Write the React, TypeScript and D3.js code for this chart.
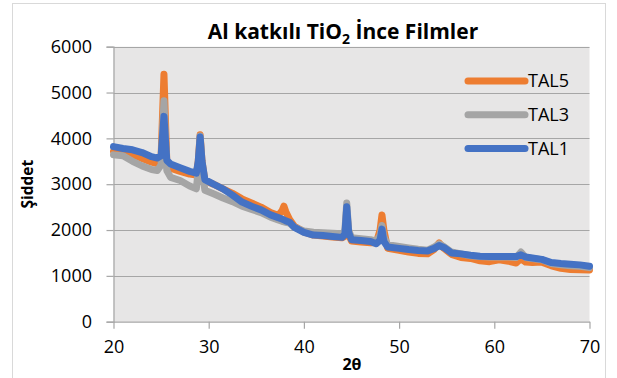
import { useEffect, useRef } from "react";
import * as d3 from "d3";

// 2θ positions shared by all three scans
const twoTheta = [
  20, 21, 22, 23, 24, 24.6, 25.0, 25.3, 25.6, 26, 27, 28, 28.7, 28.9, 29.1, 29.3, 29.6,
  30.5, 31.5, 32.5, 33.5, 34.5, 35.5, 36.5, 37.3, 37.7, 37.9, 38.1, 38.5, 39, 40, 41, 42,
  43, 44, 44.3, 44.5, 44.7, 45, 46, 47, 47.6, 48.0, 48.2, 48.4, 48.8, 50, 51, 52, 53, 53.7,
  54.2, 54.7, 55.5, 56.5, 57.5, 58.5, 59.5, 60.5, 61.5, 62.3, 62.8, 63.3, 64, 65, 66, 67,
  68, 69, 70,
];

const tal5 = [
  3720, 3690, 3650, 3560, 3480, 3450, 3600, 5400, 3500, 3350, 3280, 3220, 3200, 3500, 4080,
  3500, 3080, 3000, 2900, 2800, 2680, 2590, 2500, 2380, 2320, 2420, 2520, 2400, 2230, 2080,
  1960, 1890, 1870, 1850, 1830, 1860, 2420, 1900, 1760, 1740, 1720, 1720, 2000, 2330, 2000,
  1600, 1560, 1520, 1490, 1480, 1580, 1720, 1600, 1470, 1400, 1380, 1330, 1310, 1350, 1320,
  1280, 1380, 1300, 1290, 1300, 1220, 1165, 1140, 1135, 1130,
];

const tal3 = [
  3640, 3620, 3500, 3400, 3320, 3300, 3420, 4820, 3300, 3150, 3080, 2960, 2900, 3300, 4050,
  3300, 2870, 2790, 2700, 2620, 2520, 2450, 2380, 2280, 2220, 2190, 2180, 2170, 2150, 2060,
  1980, 1950, 1940, 1930, 1920, 1980, 2590, 2000, 1830, 1810, 1790, 1760, 1880, 2100, 1850,
  1680, 1640, 1610, 1580, 1560, 1630, 1700, 1640, 1520, 1480, 1440, 1420, 1410, 1410, 1410,
  1400, 1520, 1400, 1380, 1350, 1270, 1240, 1220, 1210, 1180,
];

const tal1 = [
  3820, 3780, 3750, 3690, 3600, 3570, 3620, 4480, 3520, 3440, 3360, 3280, 3240, 3500, 4030,
  3500, 3100, 3000, 2900, 2760, 2610, 2520, 2440, 2330, 2270, 2240, 2220, 2200, 2170, 2060,
  1950, 1890, 1880, 1860, 1840, 1900, 2510, 1950, 1790, 1770, 1750, 1700, 1780, 2020, 1750,
  1630, 1600, 1575, 1555, 1545, 1600, 1660, 1620, 1500, 1480, 1450, 1430, 1425, 1420, 1420,
  1420, 1460, 1410, 1390, 1360, 1290, 1270, 1255, 1240, 1210,
];

const seriesNames = ["TAL5", "TAL3", "TAL1"];
const seriesValues = [tal5, tal3, tal1];
const seriesColors = ["#ED7D31", "#A5A5A5", "#4472C4"];

const xTicks = [20, 30, 40, 50, 60, 70];
const yTicks = [0, 1000, 2000, 3000, 4000, 5000, 6000];

const W = 617;
const H = 378;
const FONT = "'Open Sans', 'Liberation Sans', sans-serif";

export default function App(): JSX.Element {
  const ref = useRef<SVGSVGElement | null>(null);

  useEffect(() => {
    if (!ref.current) return;
    const svg = d3.select(ref.current);
    svg.selectAll("*").remove();

    const plot = { left: 113.5, right: 589.5, top: 46.7, bottom: 321.7 };
    const x = d3.scaleLinear().domain([20, 70]).range([plot.left, plot.right]);
    const y = d3.scaleLinear().domain([0, 6000]).range([plot.bottom, plot.top]);

    // chart frame
    svg
      .append("rect")
      .attr("x", 12.5)
      .attr("y", 3.5)
      .attr("width", 593)
      .attr("height", 400)
      .attr("fill", "#fff")
      .attr("stroke", "#d9d9d9");

    // plot area
    svg
      .append("rect")
      .attr("x", plot.left)
      .attr("y", plot.top)
      .attr("width", plot.right - plot.left)
      .attr("height", plot.bottom - plot.top)
      .attr("fill", "#e7e6e6");

    // horizontal gridlines
    svg
      .append("g")
      .selectAll("line")
      .data(yTicks.filter((t) => t > 0))
      .join("line")
      .attr("x1", plot.left)
      .attr("x2", plot.right)
      .attr("y1", (d) => Math.round(y(d)) + 0.5)
      .attr("y2", (d) => Math.round(y(d)) + 0.5)
      .attr("stroke", "#a6a6a6")
      .attr("stroke-width", 1.2);

    // y axis
    const yAxis = svg
      .append("g")
      .attr("transform", `translate(${plot.left},0)`)
      .call(d3.axisLeft(y).tickValues(yTicks).tickSize(7).tickPadding(14.5).tickFormat(d3.format("d")));
    yAxis.select(".domain").attr("stroke", "#a6a6a6").attr("stroke-width", 1.2);
    yAxis.selectAll(".tick line").attr("stroke", "#a6a6a6").attr("stroke-width", 1.2);
    yAxis
      .selectAll(".tick text")
      .attr("font-family", FONT)
      .attr("font-size", 18)
      .attr("fill", "#000");

    // x axis
    const xAxis = svg
      .append("g")
      .attr("transform", `translate(0,${plot.bottom})`)
      .call(d3.axisBottom(x).tickValues(xTicks).tickSize(7).tickSizeOuter(0).tickPadding(12));
    xAxis.select(".domain").attr("stroke", "#a6a6a6").attr("stroke-width", 1.2);
    xAxis.selectAll(".tick line").attr("stroke", "#a6a6a6").attr("stroke-width", 1.2);
    xAxis
      .selectAll(".tick text")
      .attr("font-family", FONT)
      .attr("font-size", 18)
      .attr("fill", "#000");

    // series, TAL5 first so TAL1 ends up on top
    const line = d3
      .line<number>()
      .x((_d, i) => x(twoTheta[i]))
      .y((d) => y(d));

    svg
      .append("g")
      .selectAll("path")
      .data(seriesValues)
      .join("path")
      .attr("d", (d) => line(d))
      .attr("fill", "none")
      .attr("stroke", (_d, i) => seriesColors[i])
      .attr("stroke-width", 7)
      .attr("stroke-linejoin", "round")
      .attr("stroke-linecap", "round");

    // legend inside plot, top right
    const legend = svg
      .append("g")
      .selectAll("g")
      .data(seriesNames)
      .join("g")
      .attr("transform", (_d, i) => `translate(468,${81 + i * 33.7})`);
    legend
      .append("line")
      .attr("x1", 0)
      .attr("x2", 57)
      .attr("stroke", (_d, i) => seriesColors[i])
      .attr("stroke-width", 7)
      .attr("stroke-linecap", "round");
    legend
      .append("text")
      .attr("x", 60)
      .attr("dy", "0.35em")
      .attr("font-family", FONT)
      .attr("font-size", 18)
      .text((d) => d);

    // title with subscript
    const title = svg
      .append("text")
      .attr("x", 343)
      .attr("y", 39)
      .attr("text-anchor", "middle")
      .attr("font-family", FONT)
      .attr("font-weight", "bold")
      .attr("font-size", 21);
    title.append("tspan").text("Al katkılı TiO");
    title.append("tspan").attr("font-size", 14).attr("dy", 5).text("2");
    title.append("tspan").attr("dy", -5).text(" İnce Filmler");

    // axis titles
    svg
      .append("text")
      .attr("transform", `translate(33,${(plot.top + plot.bottom) / 2}) rotate(-90)`)
      .attr("text-anchor", "middle")
      .attr("font-family", FONT)
      .attr("font-weight", "bold")
      .attr("font-size", 15.5)
      .text("Şiddet");

    svg
      .append("text")
      .attr("x", 352)
      .attr("y", 370)
      .attr("text-anchor", "middle")
      .attr("font-family", FONT)
      .attr("font-weight", "bold")
      .attr("font-size", 16)
      .text("2θ");
  }, []);

  return (
    <svg
      ref={ref}
      width={W}
      height={H}
      style={{ position: "absolute", left: 0, top: 0, background: "#fff" }}
    />
  );
}
